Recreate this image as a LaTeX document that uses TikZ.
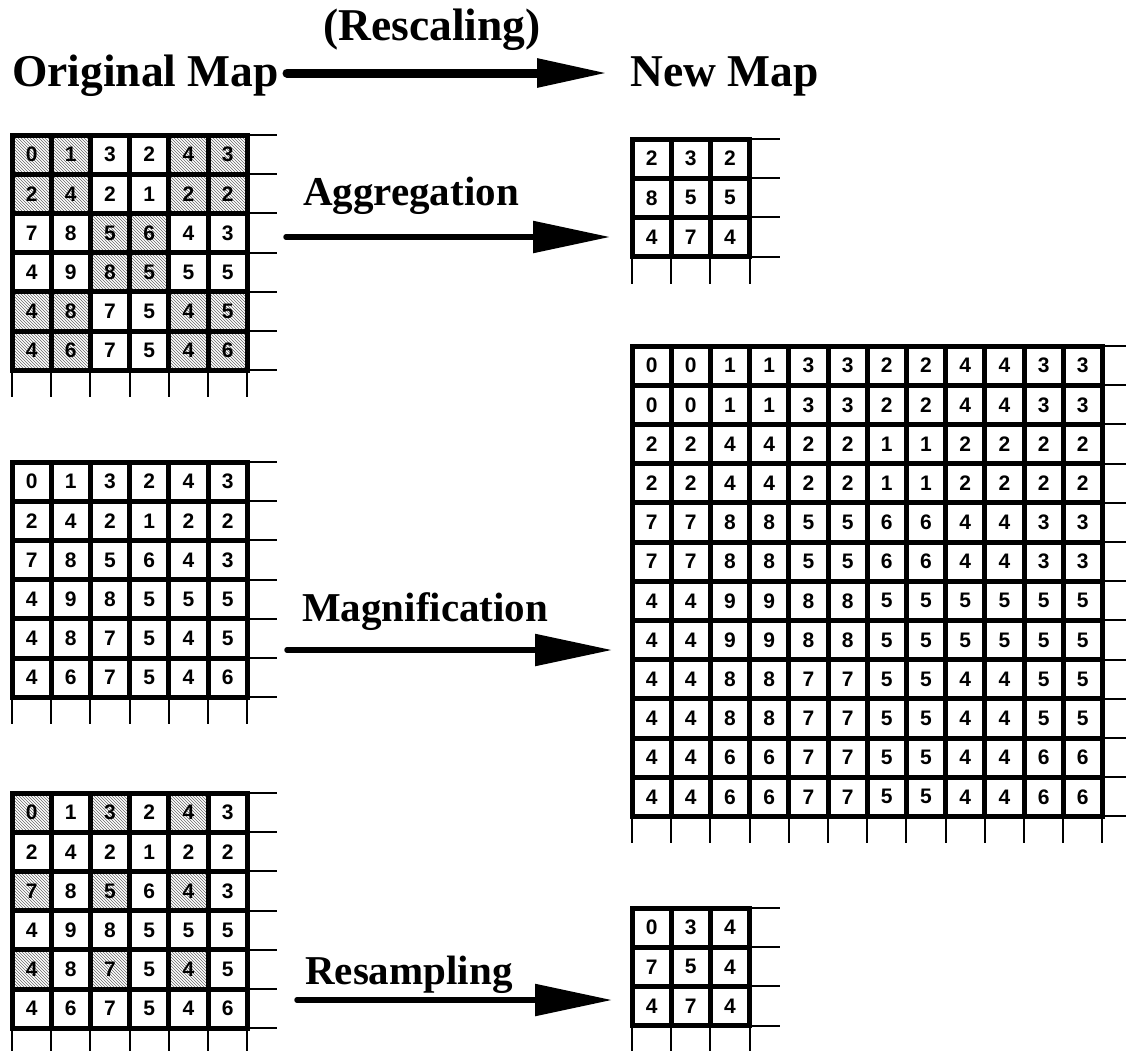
\documentclass[tikz,border=0pt]{standalone}
\usepackage{fontspec}
\setmainfont{Liberation Serif}
\newfontfamily\numfont{Liberation Sans}
\usetikzlibrary{arrows.meta,patterns}
\newcommand{\csize}{39.2}
\tikzset{
    cell/.style = {draw, rectangle, line width=5pt,
        minimum size=\csize pt, inner sep=0pt,
        font=\numfont\bfseries\fontsize{21}{21}\selectfont},
    stub/.style = {line width=2pt},
    hatch/.style = {pattern=north west lines, pattern color=black!60},
    maptitle/.style = {inner sep=0pt,
        font=\bfseries\fontsize{45.5}{45.5}\selectfont},
    oplabel/.style = {inner sep=0pt,
        font=\bfseries\fontsize{41}{41}\selectfont},
    bigarrow/.style = {line width=9pt, line cap=round,
        -{Triangle[length=71pt,width=27pt]}},
    maparrow/.style = {line width=5.5pt, line cap=round,
        -{Triangle[length=77pt,width=31pt]}}
}
% #1 name, #2 cells per side, #3 left, #4 top, #5 rows
\newcommand{\mapgrid}[5]{%
    \foreach \row [count=\r] in {#5} {
        \foreach \v [count=\c] in \row
            \node[cell] (#1-\r-\c) at ({#3+(\c-.5)*\csize},{#4+(\r-.5)*\csize}) {\v};
    }
    \foreach \i in {0,...,#2} {
        \draw[stub] ({#3+#2*\csize},{#4+\i*\csize}) -- ++(30,0);
        \draw[stub] ({#3+\i*\csize},{#4+#2*\csize}) -- ++(0,27);
    }
}

\begin{document}
\begin{tikzpicture}[x=1pt,y=-1pt]
        \useasboundingbox (0,0) rectangle (1126,1050);
        \clip (0,0) rectangle (1126,1050);
        % headings
        \node[maptitle, anchor=base west] (orig) at (12,86) {Original Map};
        \node[maptitle, anchor=base west] (new) at (630,86) {New Map};
        \node[maptitle, anchor=base] (rescale) at (432,40) {(Rescaling)};
        \coordinate (rescale-a) at (287,73);
        \coordinate (rescale-b) at (608,73);
        \draw[bigarrow] (rescale-a) -- (rescale-b);
        % hatched cells
        \foreach \r/\c in {1/1,1/2,1/5,1/6,2/1,2/2,2/5,2/6,3/3,3/4,4/3,4/4,
                5/1,5/2,5/5,5/6,6/1,6/2,6/5,6/6}
            \fill[hatch] ({12+(\c-1)*\csize},{135+(\r-1)*\csize}) rectangle ++(\csize,\csize);
        \foreach \r/\c in {1/1,1/3,1/5,3/1,3/3,3/5,5/1,5/3,5/5}
            \fill[hatch] ({12+(\c-1)*\csize},{793+(\r-1)*\csize}) rectangle ++(\csize,\csize);
        % original maps
        \mapgrid{orgA}{6}{12}{135}{{0,1,3,2,4,3},{2,4,2,1,2,2},{7,8,5,6,4,3},
            {4,9,8,5,5,5},{4,8,7,5,4,5},{4,6,7,5,4,6}}
        \mapgrid{orgM}{6}{12}{462}{{0,1,3,2,4,3},{2,4,2,1,2,2},{7,8,5,6,4,3},
            {4,9,8,5,5,5},{4,8,7,5,4,5},{4,6,7,5,4,6}}
        \mapgrid{orgR}{6}{12}{793}{{0,1,3,2,4,3},{2,4,2,1,2,2},{7,8,5,6,4,3},
            {4,9,8,5,5,5},{4,8,7,5,4,5},{4,6,7,5,4,6}}
        % new maps
        \mapgrid{agg}{3}{632}{139}{{2,3,2},{8,5,5},{4,7,4}}
        \mapgrid{mag}{12}{632}{346}{{0,0,1,1,3,3,2,2,4,4,3,3},{0,0,1,1,3,3,2,2,4,4,3,3},
            {2,2,4,4,2,2,1,1,2,2,2,2},{2,2,4,4,2,2,1,1,2,2,2,2},
            {7,7,8,8,5,5,6,6,4,4,3,3},{7,7,8,8,5,5,6,6,4,4,3,3},
            {4,4,9,9,8,8,5,5,5,5,5,5},{4,4,9,9,8,8,5,5,5,5,5,5},
            {4,4,8,8,7,7,5,5,4,4,5,5},{4,4,8,8,7,7,5,5,4,4,5,5},
            {4,4,6,6,7,7,5,5,4,4,6,6},{4,4,6,6,7,7,5,5,4,4,6,6}}
        \mapgrid{res}{3}{632}{908}{{0,3,4},{7,5,4},{4,7,4}}
        % operations
        \node[oplabel, anchor=base west] (aggtext) at (303,205) {Aggregation};
        \node[oplabel, anchor=base west] (magtext) at (302,621) {Magnification};
        \node[oplabel, anchor=base west] (restext) at (305,984) {Resampling};
        \coordinate (agg-a) at (286,237);
        \coordinate (agg-b) at (610,237);
        \coordinate (mag-a) at (287,650);
        \coordinate (mag-b) at (612,650);
        \coordinate (res-a) at (297,1000);
        \coordinate (res-b) at (612,1000);
        \draw[maparrow] (agg-a) -- (agg-b);
        \draw[maparrow] (mag-a) -- (mag-b);
        \draw[maparrow] (res-a) -- (res-b);
\end{tikzpicture}
\end{document}
